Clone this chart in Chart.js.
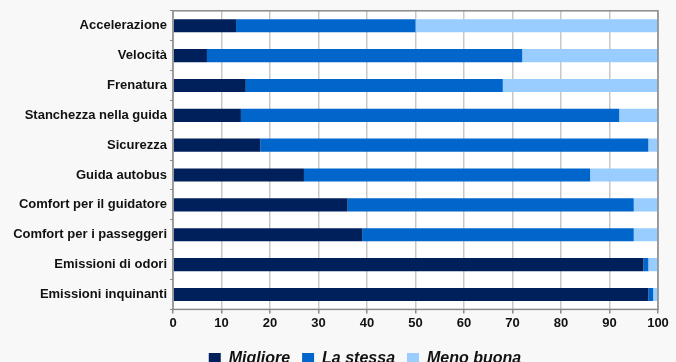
<!DOCTYPE html>
<html>
<head>
<meta charset="utf-8">
<script src="https://cdn.jsdelivr.net/npm/chart.js@4"></script>
<style>
html,body{margin:0;padding:0;background:#f8f8f8;overflow:hidden;}
#wrap{position:relative;width:676px;height:371px;}
</style>
</head>
<body>
<div id="wrap"><canvas id="c"></canvas></div>
<script>
const categories = ["Accelerazione","Velocità","Frenatura","Stanchezza nella guida","Sicurezza","Guida autobus","Comfort per il guidatore","Comfort per i passeggeri","Emissioni di odori","Emissioni inquinanti"];
const migliore  = [13, 7, 15, 14, 18, 27, 36, 39, 97, 98];
const laStessa  = [37, 65, 53, 78, 80, 59, 59, 56, 1, 1];
const menoBuona = [50, 28, 32, 8, 2, 14, 5, 5, 2, 1];
const seriesNames = ["Migliore","La stessa","Meno buona"];
const xTicks = [0,10,20,30,40,50,60,70,80,90,100];

const areaPlugin = {
  id: 'areaPlugin',
  afterLayout(chart){
    const lg = chart.legend;
    if (lg) { lg.left += 36; lg.right += 36; lg.top += 6; lg.bottom += 6; }
  },
  beforeDraw(chart){
    const {ctx, chartArea:a} = chart;
    ctx.save();
    ctx.fillStyle = '#ffffff';
    ctx.fillRect(a.left, a.top, a.right-a.left, a.bottom-a.top);
    ctx.restore();
  },
  afterDraw(chart){
    const {ctx, chartArea:a} = chart;
    ctx.save();
    ctx.strokeStyle = '#8a8a8a';
    ctx.lineWidth = 1.5;
    ctx.strokeRect(a.left, a.top, a.right-a.left, a.bottom-a.top);
    ctx.restore();
  }
};

const font = "'Liberation Sans', Arial, sans-serif";
new Chart(document.getElementById('c'), {
  type: 'bar',
  data: {
    labels: categories,
    datasets: [
      {label: seriesNames[0], data: migliore, backgroundColor: '#00205B'},
      {label: seriesNames[1], data: laStessa, backgroundColor: '#0066CC'},
      {label: seriesNames[2], data: menoBuona, backgroundColor: '#99CCFF'}
    ]
  },
  options: {
    indexAxis: 'y',
    responsive: true,
    maintainAspectRatio: false,
    animation: false,
    layout: {padding: {left: 0, right: 18, top: 10, bottom: 0}},
    datasets: {bar: {categoryPercentage: 1, barPercentage: 0.44, borderWidth: 0}},
    scales: {
      x: {
        stacked: true, min: 0, max: 100,
        afterBuildTicks(s){ s.ticks = xTicks.map(v => ({value: v})); },
        grid: {color: '#c8c8c8', lineWidth: 1.5, tickLength: 4, tickColor: '#8a8a8a', drawTicks: true},
        border: {display: false},
        ticks: {color: '#111', font: {family: font, size: 13, weight: 'bold'}, padding: 2, maxRotation: 0}
      },
      y: {
        stacked: true,
        afterFit(s){ s.width = 173; },
        grid: {display: true, drawOnChartArea: false, tickLength: 3, tickColor: '#8a8a8a', offset: true},
        border: {display: false},
        ticks: {color: '#111', font: {family: font, size: 13, weight: 'bold'}, padding: 3}
      }
    },
    plugins: {
      legend: {
        position: 'bottom',
        labels: {
          boxWidth: 12, boxHeight: 12, padding: 12,
          color: '#111',
          font: {family: font, size: 16, weight: 'bold', style: 'italic'}
        }
      },
      tooltip: {enabled: false}
    }
  },
  plugins: [areaPlugin]
});
</script>
</body>
</html>
